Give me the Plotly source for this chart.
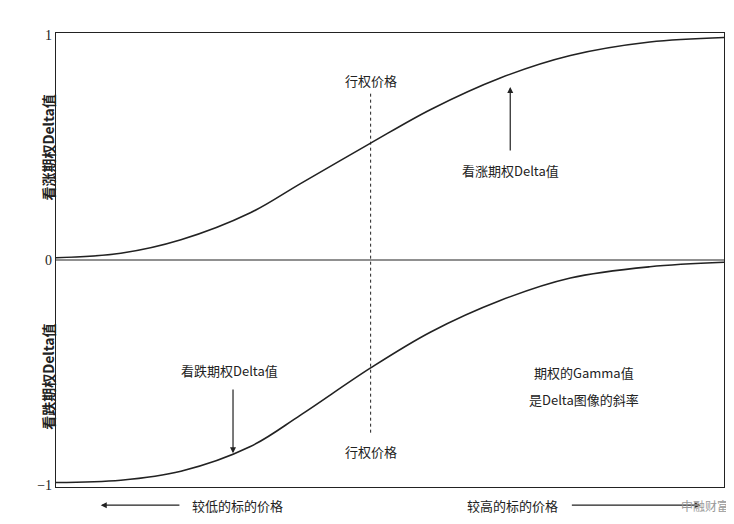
import plotly.graph_objects as go

x_vals = [0, 9.7, 18.7, 29.1, 36.6, 47.1, 56.1, 66.5, 77.0, 88.9, 100]
call_delta = [0.01, 0.03, 0.09, 0.21, 0.34, 0.52, 0.67, 0.81, 0.91, 0.97, 0.99]
put_delta = [-0.99, -0.98, -0.94, -0.83, -0.69, -0.48, -0.32, -0.18, -0.08, -0.03, -0.01]
strike_x = 47.1
y_ticks = [1, 0, -1]
y_tick_text = ["1", "0", "−1"]

F = "Noto Sans CJK SC"
C = "#222222"
fig = go.Figure()
fig.add_trace(go.Scatter(x=x_vals, y=call_delta, mode="lines", line=dict(color=C, width=1.6, shape="spline", smoothing=1.0)))
fig.add_trace(go.Scatter(x=x_vals, y=put_delta, mode="lines", line=dict(color=C, width=1.6, shape="spline", smoothing=1.0)))
fig.add_shape(type="line", x0=0, x1=100, y0=0, y1=0, line=dict(color=C, width=1.2))
fig.add_shape(type="line", x0=strike_x, x1=strike_x, y0=0.74, y1=-0.77, line=dict(color=C, width=1, dash="dot"))

def txt(x, y, s, size=13, **kw):
    fig.add_annotation(x=x, y=y, text=s, showarrow=False, font=dict(family=F, size=size, color=C), **kw)

txt(strike_x, 0.80, "行权价格")
txt(strike_x, -0.85, "行权价格")
txt(68.0, 0.40, "看涨期权Delta值")
txt(26.0, -0.49, "看跌期权Delta值")
txt(79.0, -0.50, "期权的Gamma值")
txt(79.0, -0.62, "是Delta图像的斜率")
fig.add_annotation(x=68.0, y=0.77, ax=68.0, ay=0.48, xref="x", yref="y", axref="x", ayref="y",
                   text="", showarrow=True, arrowhead=2, arrowsize=1, arrowwidth=1.2, arrowcolor=C)
fig.add_annotation(x=26.5, y=-0.86, ax=26.5, ay=-0.57, xref="x", yref="y", axref="x", ayref="y",
                   text="", showarrow=True, arrowhead=2, arrowsize=1, arrowwidth=1.2, arrowcolor=C)
D = dict(xref="x domain", yref="y domain", axref="x domain", ayref="y domain")
fig.add_annotation(x=0.20, y=-0.04, xref="x domain", yref="y domain", text="较低的标的价格", showarrow=False,
                   font=dict(family=F, size=13, color=C), xanchor="left", yanchor="middle")
fig.add_annotation(x=0.067, y=-0.04, ax=0.187, ay=-0.04, **D,
                   text="", showarrow=True, arrowhead=2, arrowwidth=1.2, arrowcolor=C)
fig.add_annotation(x=0.755, y=-0.04, xref="x domain", yref="y domain", text="较高的标的价格", showarrow=False,
                   font=dict(family=F, size=13, color=C), xanchor="right", yanchor="middle")
fig.add_annotation(x=0.965, y=-0.04, ax=0.77, ay=-0.04, **D,
                   text="", showarrow=True, arrowhead=2, arrowwidth=1.2, arrowcolor=C)
fig.add_annotation(x=1.01, y=-0.04, xref="x domain", yref="y domain", text="中融财富", showarrow=False,
                   font=dict(family=F, size=12, color="#999"), xanchor="right", yanchor="middle")
fig.add_annotation(x=-0.03, y=0.5, xref="x domain", yref="y", text="<b>看涨期权Delta值</b>", textangle=-90, showarrow=False,
                   font=dict(family=F, size=14, color=C))
fig.add_annotation(x=-0.03, y=-0.52, xref="x domain", yref="y", text="<b>看跌期权Delta值</b>", textangle=-90, showarrow=False,
                   font=dict(family=F, size=14, color=C))

fig.update_layout(width=726, height=516, margin=dict(l=48, r=10, t=25, b=37, autoexpand=False), showlegend=False,
                  plot_bgcolor="white", paper_bgcolor="white")
fig.update_xaxes(range=[0, 100], showticklabels=False, ticks="", showgrid=False, zeroline=False,
                 showline=True, mirror=True, linecolor=C, linewidth=1.2, automargin=False)
fig.update_yaxes(range=[-1.01, 1.01], tickvals=y_ticks, ticktext=y_tick_text, showgrid=False, zeroline=False,
                 showline=True, mirror=True, linecolor=C, linewidth=1.2, ticks="", automargin=False,
                 tickfont=dict(family="Liberation Serif", size=14, color=C))
fig.write_html("out.html")
